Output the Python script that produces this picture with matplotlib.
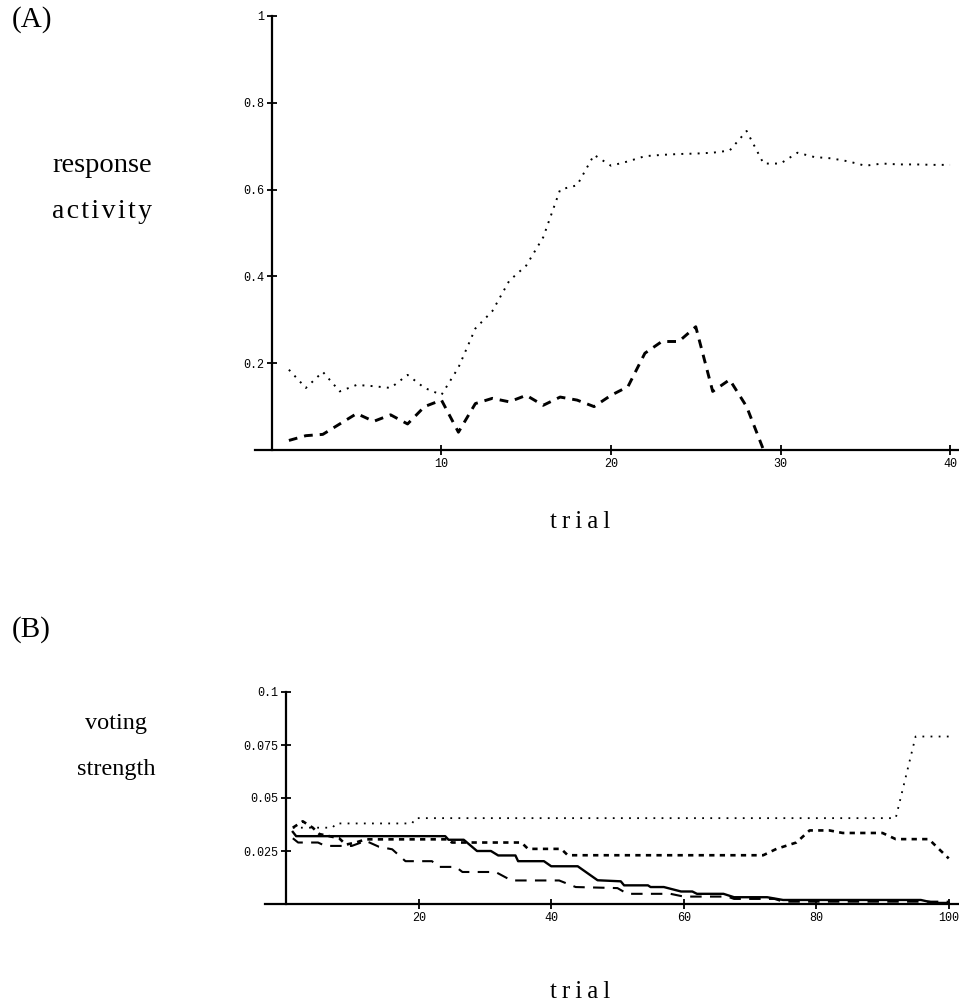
import matplotlib
matplotlib.use('Agg')
import matplotlib.pyplot as plt

W, H = 959, 1006

# ---- panel A data: response activity per trial
trials_a = list(range(1, 41))
dotted_a = [0.185, 0.143, 0.18, 0.135, 0.15, 0.147, 0.143, 0.173, 0.143, 0.127,
            0.19, 0.28, 0.32, 0.39, 0.425, 0.49, 0.60, 0.61, 0.68, 0.655,
            0.665, 0.677, 0.68, 0.682, 0.683, 0.685, 0.69, 0.735, 0.66, 0.66,
            0.685, 0.675, 0.672, 0.665, 0.655, 0.66, 0.658, 0.658, 0.657, 0.657]
trials_dashed_a = list(range(1, 30))
dashed_a = [0.022, 0.033, 0.036, 0.06, 0.084, 0.066, 0.081, 0.06, 0.10, 0.115,
            0.041, 0.107, 0.119, 0.111, 0.126, 0.103, 0.122, 0.115, 0.10, 0.126,
            0.146, 0.223, 0.25, 0.25, 0.284, 0.135, 0.162, 0.10, 0.0]
xticks_a = [10, 20, 30, 40]
yticks_a = [0.2, 0.4, 0.6, 0.8, 1.0]
ylabels_a = ['0.2', '0.4', '0.6', '0.8', '1']

# ---- panel B data: voting strength (vertices of each trace)
dotted_bx = [1, 7, 7.5, 19, 19.5, 92, 95, 100]
dotted_by = [0.036, 0.036, 0.038, 0.038, 0.0405, 0.0405, 0.079, 0.079]

short_bx = [1, 2.5, 4, 5, 8, 9, 10.5, 12, 24.5, 25, 35.5, 36.5, 41.5, 42.5,
            72, 74, 77, 79, 82, 84, 90, 92, 97, 98.5, 100]
short_by = [0.036, 0.039, 0.036, 0.033, 0.031, 0.028, 0.029, 0.0305, 0.0305,
            0.029, 0.029, 0.026, 0.026, 0.023, 0.023, 0.026, 0.029, 0.0347,
            0.0347, 0.0335, 0.0335, 0.0306, 0.0306, 0.026, 0.0215]

solid_bx = [1, 1.5, 24, 24.5, 26.8, 28.8, 30.9, 32, 34.6, 35, 38.9, 40, 44, 47,
            50.5, 51, 54.6, 55, 57, 59.6, 61.3, 62, 66, 67.6, 72.6, 75, 95.8,
            97.8, 100]
solid_by = [0.034, 0.032, 0.032, 0.0303, 0.0303, 0.025, 0.025, 0.0229, 0.0229,
            0.0202, 0.0202, 0.0178, 0.0178, 0.0112, 0.0107, 0.0088, 0.0088,
            0.008, 0.008, 0.0059, 0.0059, 0.0048, 0.0048, 0.0032, 0.0032,
            0.0019, 0.0019, 0.0005, 0.0005]

long_bx = [1, 1.8, 4.8, 5.9, 9.9, 12, 14, 16, 18, 22, 23, 25.6, 26.6, 31.6, 34,
           41.2, 43.7, 50, 51.5, 58, 60, 66.6, 67.6, 73.7, 75, 100]
long_by = [0.031, 0.029, 0.029, 0.0274, 0.0274, 0.0298, 0.027, 0.0258, 0.0202,
           0.0202, 0.0175, 0.0175, 0.0151, 0.0151, 0.0111, 0.0111, 0.008,
           0.0075, 0.0048, 0.0048, 0.0035, 0.0035, 0.0024, 0.0024, 0.0011,
           0.0011]
xticks_b = [20, 40, 60, 80, 100]
yticks_b = [0.025, 0.05, 0.075, 0.1]
ylabels_b = ['0.025', '0.05', '0.075', '0.1']

TICKFONT = 'Liberation Mono'
SERIF = ['Liberation Serif', 'DejaVu Serif']
HAIR = '\u200a'
THIN = '\u2009'


def axes_px(fig, left, top, right, bottom):
    """Add axes given pixel box (from top-left of figure)."""
    return fig.add_axes([left / W, 1 - bottom / H, (right - left) / W, (bottom - top) / H])


def style_axes(ax, xticks, yticks, ylabels):
    for s in ('top', 'right'):
        ax.spines[s].set_visible(False)
    ax.spines['left'].set_position(('data', 0))
    ax.spines['bottom'].set_position(('data', 0))
    for s in ('left', 'bottom'):
        ax.spines[s].set_linewidth(1.6)
    ax.set_xticks(xticks)
    ax.set_xticklabels([str(t) for t in xticks])
    ax.set_yticks(yticks)
    ax.set_yticklabels(ylabels)
    ax.tick_params(direction='inout', length=7, width=1.3, pad=2, labelsize=8.5)
    for lab in ax.get_xticklabels() + ax.get_yticklabels():
        lab.set_fontfamily(TICKFONT)
    ax.patch.set_visible(False)


def ftext(fig, x, y, s, size=17, **kw):
    fig.text(x / W, 1 - y / H, s, fontsize=size, family=SERIF,
             ha=kw.pop('ha', 'center'), va=kw.pop('va', 'center'), **kw)


def spaced(word, sep):
    return sep.join(word)


fig = plt.figure(figsize=(W / 100, H / 100), dpi=100)

# ---- panel A
axA = axes_px(fig, 255, 16, 958, 450)
axA.plot(trials_a, dotted_a, color='black', lw=1.4, linestyle=(0, (1, 3.2)))
axA.plot(trials_dashed_a, dashed_a, color='black', lw=2.1, linestyle=(0, (3, 2.4)))
axA.set_xlim(-1.0, 40.47)
axA.set_ylim(0, 1)
style_axes(axA, xticks_a, yticks_a, ylabels_a)

# ---- panel B
axB = axes_px(fig, 265, 692, 958, 904)
axB.plot(dotted_bx, dotted_by, color='black', lw=1.3, linestyle=(0, (1, 3.5)))
axB.plot(short_bx, short_by, color='black', lw=1.9, linestyle=(0, (2, 2)))
axB.plot(long_bx, long_by, color='black', lw=1.5, linestyle=(0, (5.5, 4)))
axB.plot(solid_bx, solid_by, color='black', lw=1.7)
axB.set_xlim(-3.2, 101.4)
axB.set_ylim(0, 0.1)
style_axes(axB, xticks_b, yticks_b, ylabels_b)

# ---- labels
ftext(fig, 12, 20, '(A)', size=21, ha='left')
ftext(fig, 102, 166, 'response', size=20.5)
ftext(fig, 102, 212, spaced('activity', HAIR), size=20)
ftext(fig, 580, 522, spaced('trial', THIN), size=18)

ftext(fig, 12, 630, '(B)', size=21, ha='left')
ftext(fig, 116, 724, 'voting', size=17.5)
ftext(fig, 116, 770, 'strength', size=17.5)
ftext(fig, 580, 992, spaced('trial', THIN), size=18)

fig.savefig('out.png', dpi=100)
